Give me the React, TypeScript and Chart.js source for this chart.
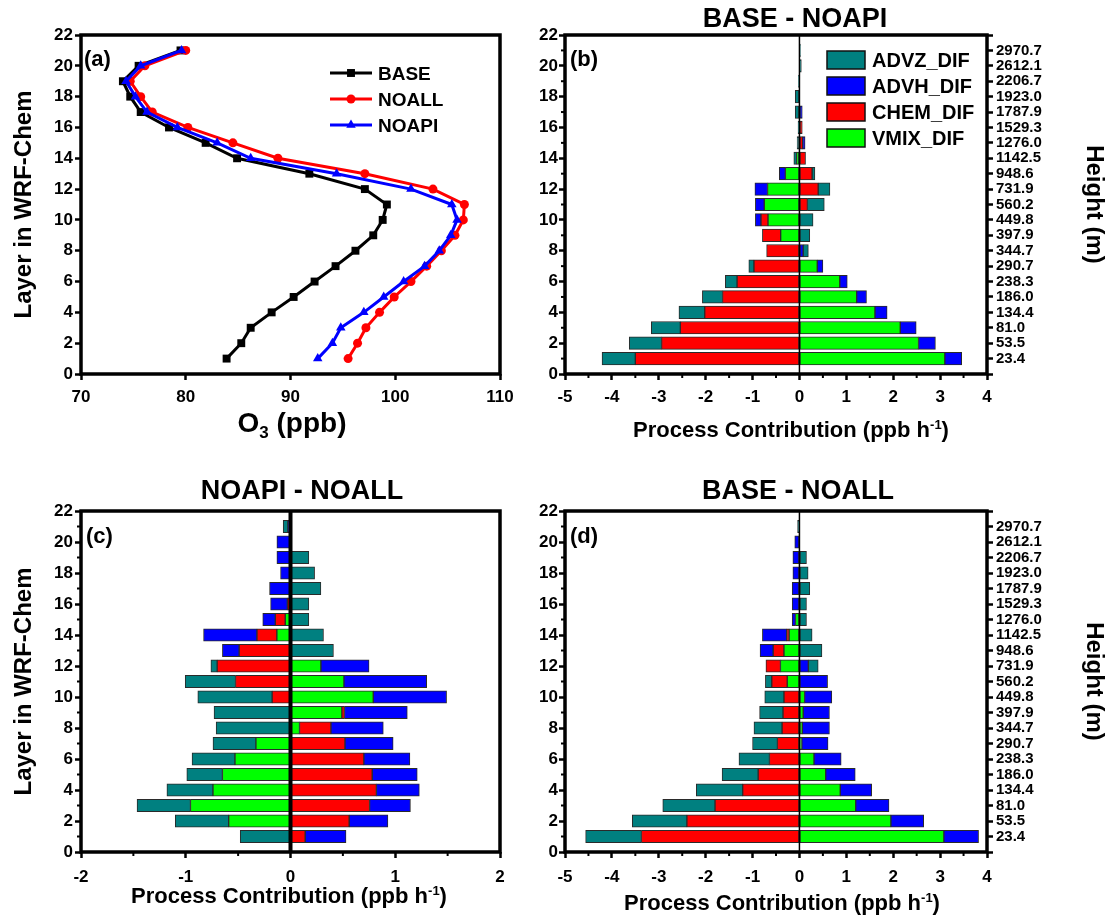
import React, { useEffect, useRef } from 'react';
import { Chart, registerables } from 'chart.js';

Chart.register(...registerables);

const FAMILY = '"Liberation Sans", Arial, Helvetica, sans-serif';
const W = 1115;
const H = 922;

// ---------- data ----------
const LAYERS = [1, 2, 3, 4, 5, 6, 7, 8, 9, 10, 11, 12, 13, 14, 15, 16, 17, 18, 19, 20, 21];
const HEIGHTS = ['23.4', '53.5', '81.0', '134.4', '186.0', '238.3', '290.7', '344.7', '397.9', '449.8', '560.2',
  '731.9', '948.6', '1142.5', '1276.0', '1529.3', '1787.9', '1923.0', '2206.7', '2612.1', '2970.7'];
const RIGHT_TICKS = [0, 1, 2, 3, 4, 5, 6, 7, 8, 9, 10, 11, 12, 13, 14, 15, 16, 17, 18, 19, 20, 21, 22];

// panel (a): O3 profiles (ppb)
const O3_BASE = [83.9, 85.3, 86.2, 88.2, 90.3, 92.3, 94.3, 96.2, 97.9, 98.8, 99.2, 97.1, 91.8, 84.9, 81.9, 78.4, 75.7, 74.7, 74.0, 75.5, 79.5];
const O3_NOALL = [95.5, 96.4, 97.2, 98.5, 99.9, 101.5, 103.0, 104.4, 105.7, 106.5, 106.6, 103.6, 97.1, 88.8, 84.5, 80.2, 76.8, 75.7, 74.7, 76.1, 80.0];
const O3_NOAPI = [92.6, 94.0, 94.8, 97.0, 98.9, 100.8, 102.8, 104.2, 105.3, 105.9, 105.4, 101.5, 94.4, 86.2, 83.0, 79.2, 76.3, 75.2, 74.3, 75.7, 79.6];

// panel (b): BASE - NOAPI (ppb/h)
const B_ADVZ = [-0.71, -0.69, -0.62, -0.55, -0.43, -0.25, -0.11, 0.11, 0.22, 0.29, 0.36, 0.25, 0.06, -0.06, -0.05, -0.03, -0.09, -0.09, -0.02, 0.04, 0.02];
const B_ADVH = [0.36, 0.36, 0.34, 0.26, 0.21, 0.16, 0.12, 0.08, 0, -0.12, -0.19, -0.27, -0.13, 0, 0.05, 0, 0.06, 0, 0, 0, 0];
const B_CHEM = [-3.5, -2.94, -2.54, -2.02, -1.64, -1.33, -0.97, -0.7, -0.39, -0.15, 0.17, 0.4, 0.27, 0.13, 0.07, 0.06, 0, 0, 0, 0, 0];
const B_VMIX = [3.1, 2.54, 2.15, 1.61, 1.22, 0.86, 0.38, 0, -0.4, -0.67, -0.75, -0.68, -0.3, -0.06, 0, 0, 0, 0, 0, 0, 0];

// panel (c): NOAPI - NOALL
const C_ADVZ = [-0.48, -0.51, -0.51, -0.44, -0.34, -0.41, -0.41, -0.71, -0.73, -0.71, -0.48, -0.06, 0.41, 0.315, 0.175, 0.175, 0.29, 0.23, 0.175, 0, -0.045];
const C_ADVH = [0.39, 0.37, 0.39, 0.41, 0.43, 0.44, 0.46, 0.5, 0.6, 0.7, 0.79, 0.46, -0.16, -0.51, -0.12, -0.16, -0.2, -0.095, -0.13, -0.13, -0.025];
const C_CHEM = [0.14, 0.56, 0.755, 0.82, 0.78, 0.7, 0.52, 0.3, 0.025, -0.175, -0.525, -0.7, -0.49, -0.19, -0.095, -0.03, 0, 0, 0, 0, 0];
const C_VMIX = [0, -0.59, -0.955, -0.74, -0.65, -0.53, -0.33, 0.086, 0.49, 0.79, 0.51, 0.29, 0, -0.13, -0.05, 0, 0, 0, 0, 0, 0];

// panel (d): BASE - NOALL
const D_ADVZ = [-1.19, -1.165, -1.115, -0.99, -0.77, -0.65, -0.53, -0.6, -0.5, -0.41, -0.135, 0.21, 0.48, 0.27, 0.15, 0.15, 0.22, 0.185, 0.15, 0, -0.04];
const D_ADVH = [0.74, 0.7, 0.71, 0.67, 0.63, 0.58, 0.56, 0.58, 0.56, 0.58, 0.6, 0.19, -0.28, -0.52, -0.07, -0.155, -0.155, -0.14, -0.14, -0.1, 0];
const D_CHEM = [-3.37, -2.4, -1.8, -1.21, -0.88, -0.64, -0.47, -0.37, -0.35, -0.33, -0.33, -0.31, -0.23, -0.05, 0, 0, 0, 0, 0, 0, 0];
const D_VMIX = [3.08, 1.95, 1.2, 0.87, 0.56, 0.31, 0.05, 0.06, 0.08, 0.11, -0.26, -0.405, -0.33, -0.22, -0.085, 0, 0, 0, 0, 0, 0];

const PROCESS_NAMES = ['ADVZ_DIF', 'ADVH_DIF', 'CHEM_DIF', 'VMIX_DIF'];
const PROCESS_COLORS = ['#008080', '#0000FF', '#FF0000', '#00FF00'];
const Y_MINOR = [1, 3, 5, 7, 9, 11, 13, 15, 17, 19, 21];
const X_MINOR_WIDE = [-4.5, -3.5, -2.5, -1.5, -0.5, 0.5, 1.5, 2.5, 3.5];
const X_MINOR_NARROW = [-1.5, -0.5, 0.5, 1.5];

// ---------- helpers ----------
type Seg = { t: string; sup?: boolean; sub?: boolean };
type TextItem = { segs: Seg[]; x: number; y: number; size: number; align?: 'left' | 'center'; rotate?: number };

const tickFont = (size: number) => ({ family: FAMILY, size, weight: 'bold' as const });

function drawRich(ctx: CanvasRenderingContext2D, segs: Seg[], x: number, y: number, size: number, align: 'left' | 'center') {
  const big = `bold ${size}px ${FAMILY}`;
  const small = `bold ${Math.round(size * 0.6)}px ${FAMILY}`;
  const widths = segs.map((s) => {
    ctx.font = s.sup || s.sub ? small : big;
    return ctx.measureText(s.t).width;
  });
  const total = widths.reduce((a, b) => a + b, 0);
  let cx = align === 'center' ? x - total / 2 : x;
  ctx.textAlign = 'left';
  ctx.textBaseline = 'alphabetic';
  ctx.fillStyle = '#000';
  segs.forEach((s, i) => {
    ctx.font = s.sup || s.sub ? small : big;
    const dy = s.sup ? -size * 0.38 : s.sub ? size * 0.2 : 0;
    ctx.fillText(s.t, cx, y + dy);
    cx += widths[i];
  });
}

function drawText(ctx: CanvasRenderingContext2D, item: TextItem) {
  ctx.save();
  ctx.translate(item.x, item.y);
  if (item.rotate) ctx.rotate(item.rotate);
  drawRich(ctx, item.segs, 0, 0, item.size, item.align || 'center');
  ctx.restore();
}

function drawMarker(ctx: CanvasRenderingContext2D, style: string, x: number, y: number, r: number, color: string) {
  ctx.fillStyle = color;
  ctx.beginPath();
  if (style === 'rect') {
    const s = r * Math.SQRT1_2;
    ctx.rect(x - s, y - s, 2 * s, 2 * s);
  } else if (style === 'circle') {
    ctx.arc(x, y, r, 0, Math.PI * 2);
  } else {
    const h = r * 1.5;
    ctx.moveTo(x, y - r);
    ctx.lineTo(x + h * 0.577, y + r * 0.5);
    ctx.lineTo(x - h * 0.577, y + r * 0.5);
    ctx.closePath();
  }
  ctx.fill();
}

type LineLegend = { x0: number; x1: number; ys: number[]; labels: string[]; colors: string[]; styles: string[]; radii: number[]; size: number };
type BoxLegend = { x: number; w: number; h: number; ys: number[]; labels: string[]; colors: string[]; size: number };

type Deco = {
  zeroWidth?: number;
  minorX?: number[];
  minorY?: number[];
  texts: TextItem[];
  lineLegend?: LineLegend;
  boxLegend?: BoxLegend;
};

function decoPlugin(spec: Deco) {
  return {
    id: 'deco',
    afterDraw(chart: any) {
      const ctx: CanvasRenderingContext2D = chart.ctx;
      const a = chart.chartArea;
      const sx = chart.scales.x;
      const sy = chart.scales.y;
      ctx.save();
      ctx.strokeStyle = '#000';
      ctx.lineCap = 'butt';
      if (spec.zeroWidth) {
        const x0 = sx.getPixelForValue(0);
        ctx.lineWidth = spec.zeroWidth;
        ctx.beginPath();
        ctx.moveTo(x0, a.top);
        ctx.lineTo(x0, a.bottom);
        ctx.stroke();
      }
      ctx.lineWidth = 2;
      (spec.minorX || []).forEach((v) => {
        const px = sx.getPixelForValue(v);
        ctx.beginPath();
        ctx.moveTo(px, a.bottom);
        ctx.lineTo(px, a.bottom + 4);
        ctx.stroke();
      });
      (spec.minorY || []).forEach((v) => {
        const py = sy.getPixelForValue(v);
        ctx.beginPath();
        ctx.moveTo(a.left, py);
        ctx.lineTo(a.left - 4, py);
        ctx.stroke();
      });
      ctx.lineWidth = 3.5;
      ctx.strokeRect(a.left, a.top, a.right - a.left, a.bottom - a.top);

      const ll = spec.lineLegend;
      if (ll) {
        ll.ys.forEach((y, i) => {
          ctx.strokeStyle = ll.colors[i];
          ctx.lineWidth = 3;
          ctx.beginPath();
          ctx.moveTo(ll.x0, y);
          ctx.lineTo(ll.x1, y);
          ctx.stroke();
          drawMarker(ctx, ll.styles[i], (ll.x0 + ll.x1) / 2, y, ll.radii[i], ll.colors[i]);
          drawRich(ctx, [{ t: ll.labels[i] }], ll.x1 + 6, y + ll.size * 0.36, ll.size, 'left');
        });
      }
      const bl = spec.boxLegend;
      if (bl) {
        bl.ys.forEach((y, i) => {
          ctx.fillStyle = bl.colors[i];
          ctx.fillRect(bl.x, y - bl.h / 2, bl.w, bl.h);
          ctx.strokeStyle = '#111';
          ctx.lineWidth = 1.5;
          ctx.strokeRect(bl.x, y - bl.h / 2, bl.w, bl.h);
          drawRich(ctx, [{ t: bl.labels[i] }], bl.x + bl.w + 7, y + bl.size * 0.36, bl.size, 'left');
        });
      }
      spec.texts.forEach((t) => drawText(ctx, t));
      ctx.restore();
    },
  };
}

const gridTicks = { drawOnChartArea: false, drawTicks: true, tickLength: 6, tickWidth: 2.5, tickColor: '#000', offset: false };

function xAxis(min: number, max: number, step: number, pad: number, stacked: boolean) {
  return {
    type: 'linear', position: 'bottom', min, max, stacked, offset: false,
    ticks: { stepSize: step, font: tickFont(17), color: '#000', padding: pad, autoSkip: false, maxRotation: 0 },
    grid: gridTicks,
    border: { display: false },
    afterFit: (s: any) => { s.height = 40; },
  };
}

function yAxis(width: number, pad: number, stacked: boolean) {
  return {
    type: 'linear', position: 'left', min: 0, max: 22, stacked, offset: false,
    ticks: { stepSize: 2, font: tickFont(17), color: '#000', padding: pad, autoSkip: false },
    grid: gridTicks,
    border: { display: false },
    afterFit: (s: any) => { s.width = width; },
  };
}

const rightAxis = {
  type: 'linear', position: 'right', min: 0, max: 22, offset: false,
  afterBuildTicks: (s: any) => { s.ticks = RIGHT_TICKS.map((v) => ({ value: v })); },
  ticks: {
    autoSkip: false, font: tickFont(15), color: '#000', padding: 3,
    callback: (v: number) => (v >= 1 && v <= 21 ? HEIGHTS[v - 1] : ''),
  },
  grid: gridTicks,
  border: { display: false },
  afterFit: (s: any) => { s.width = 60; },
};

const LAYER_TITLE: Seg[] = [{ t: 'Layer in WRF-Chem' }];
const PC_TITLE: Seg[] = [{ t: 'Process Contribution (ppb h' }, { t: '-1', sup: true }, { t: ')' }];
const HEIGHT_TITLE: Seg[] = [{ t: 'Height (m)' }];

function barDatasets(advz: number[], advh: number[], chem: number[], vmix: number[]) {
  // stacking order from zero outward: VMIX, CHEM, ADVH, ADVZ
  const series = [vmix, chem, advh, advz];
  const idx = [3, 2, 1, 0];
  return series.map((arr, k) => ({
    label: PROCESS_NAMES[idx[k]],
    data: arr.map((v) => (v === 0 ? null : v)),
    backgroundColor: PROCESS_COLORS[idx[k]],
    borderColor: '#2a2a2a',
    borderWidth: 1,
    borderSkipped: false,
    barThickness: 12.5,
    xAxisID: 'x',
    yAxisID: 'y',
  }));
}

function barConfig(opts: {
  data: number[][]; xmin: number; xmax: number; padding: any; left: boolean; right: boolean;
  xpad: number; deco: Deco;
}) {
  const scales: any = {
    x: xAxis(opts.xmin, opts.xmax, 1, opts.xpad, true),
    y: yAxis(opts.left ? 81 : 40, opts.left ? 2 : 1, true),
  };
  if (opts.right) scales.y2 = rightAxis;
  return {
    type: 'bar',
    data: { labels: LAYERS, datasets: barDatasets(opts.data[0], opts.data[1], opts.data[2], opts.data[3]) },
    options: {
      indexAxis: 'y',
      responsive: false,
      maintainAspectRatio: false,
      animation: false,
      layout: { padding: opts.padding },
      plugins: { legend: { display: false }, tooltip: { enabled: false }, title: { display: false } },
      scales,
    },
    plugins: [decoPlugin(opts.deco)],
  };
}

function configA() {
  const mk = (label: string, arr: number[], color: string, style: string, r: number, order: number) => ({
    label,
    data: arr.map((v, i) => ({ x: v, y: LAYERS[i] })),
    borderColor: color,
    backgroundColor: color,
    borderWidth: 3,
    pointStyle: style,
    pointRadius: r,
    pointBorderWidth: 0,
    pointBackgroundColor: color,
    tension: 0,
    order,
  });
  return {
    type: 'line',
    data: {
      datasets: [
        mk('BASE', O3_BASE, '#000000', 'rect', 5.6, 2),
        mk('NOALL', O3_NOALL, '#FF0000', 'circle', 4.5, 1),
        mk('NOAPI', O3_NOAPI, '#0000FF', 'triangle', 5.5, 0),
      ],
    },
    options: {
      responsive: false,
      maintainAspectRatio: false,
      animation: false,
      layout: { padding: { left: 0, top: 35, right: 615, bottom: 508 } },
      plugins: { legend: { display: false }, tooltip: { enabled: false }, title: { display: false } },
      scales: { x: xAxis(70, 110, 10, 7, false), y: yAxis(81, 2, false) },
    },
    plugins: [decoPlugin({
      texts: [
        { segs: [{ t: '(a)' }], x: 84, y: 66, size: 22, align: 'left' },
        { segs: [{ t: 'O' }, { t: '3', sub: true }, { t: ' (ppb)' }], x: 292, y: 432, size: 28 },
        { segs: LAYER_TITLE, x: 31, y: 204.5, size: 24, rotate: -Math.PI / 2 },
      ],
      lineLegend: {
        x0: 330, x1: 372, ys: [73, 99, 125], labels: ['BASE', 'NOALL', 'NOAPI'],
        colors: ['#000000', '#FF0000', '#0000FF'], styles: ['rect', 'circle', 'triangle'], radii: [5.6, 4.5, 5.5], size: 19,
      },
    })],
  };
}

function configB() {
  return barConfig({
    data: [B_ADVZ, B_ADVH, B_CHEM, B_VMIX], xmin: -5, xmax: 4, left: false, right: true, xpad: 7,
    padding: { left: 525, top: 35, right: 68, bottom: 508 },
    deco: {
      zeroWidth: 1.5, minorX: X_MINOR_WIDE, minorY: Y_MINOR,
      texts: [
        { segs: [{ t: 'BASE - NOAPI' }], x: 795, y: 27, size: 27 },
        { segs: [{ t: '(b)' }], x: 570, y: 66, size: 22, align: 'left' },
        { segs: PC_TITLE, x: 791, y: 437, size: 22 },
        { segs: HEIGHT_TITLE, x: 1087, y: 204.5, size: 24, rotate: Math.PI / 2 },
      ],
      boxLegend: { x: 827, w: 38, h: 18, ys: [60, 86, 112, 138], labels: PROCESS_NAMES, colors: PROCESS_COLORS, size: 20 },
    },
  });
}

function configC() {
  return barConfig({
    data: [C_ADVZ, C_ADVH, C_CHEM, C_VMIX], xmin: -2, xmax: 2, left: true, right: false, xpad: 9,
    padding: { left: 0, top: 511, right: 615, bottom: 30 },
    deco: {
      zeroWidth: 4, minorX: X_MINOR_NARROW, minorY: Y_MINOR,
      texts: [
        { segs: [{ t: 'NOAPI - NOALL' }], x: 302, y: 499, size: 27 },
        { segs: [{ t: '(c)' }], x: 86, y: 543, size: 22, align: 'left' },
        { segs: PC_TITLE, x: 289, y: 903, size: 22 },
        { segs: LAYER_TITLE, x: 31, y: 681.5, size: 24, rotate: -Math.PI / 2 },
      ],
    },
  });
}

function configD() {
  return barConfig({
    data: [D_ADVZ, D_ADVH, D_CHEM, D_VMIX], xmin: -5, xmax: 4, left: false, right: true, xpad: 9,
    padding: { left: 525, top: 511, right: 68, bottom: 30 },
    deco: {
      zeroWidth: 1.5, minorX: X_MINOR_WIDE, minorY: Y_MINOR,
      texts: [
        { segs: [{ t: 'BASE - NOALL' }], x: 798, y: 499, size: 27 },
        { segs: [{ t: '(d)' }], x: 570, y: 543, size: 22, align: 'left' },
        { segs: PC_TITLE, x: 782, y: 910, size: 22 },
        { segs: HEIGHT_TITLE, x: 1087, y: 681.5, size: 24, rotate: Math.PI / 2 },
      ],
    },
  });
}

function Panel({ make }: { make: () => any }) {
  const ref = useRef<HTMLCanvasElement>(null);
  useEffect(() => {
    if (!ref.current) return;
    const chart = new Chart(ref.current, make());
    return () => chart.destroy();
  }, [make]);
  return (
    <canvas
      ref={ref}
      width={W}
      height={H}
      style={{ position: 'absolute', left: 0, top: 0, width: W, height: H }}
    />
  );
}

export default function App() {
  return (
    <div style={{ position: 'absolute', left: 0, top: 0, width: W, height: H, background: '#fff', overflow: 'hidden' }}>
      <Panel make={configA} />
      <Panel make={configB} />
      <Panel make={configC} />
      <Panel make={configD} />
    </div>
  );
}
